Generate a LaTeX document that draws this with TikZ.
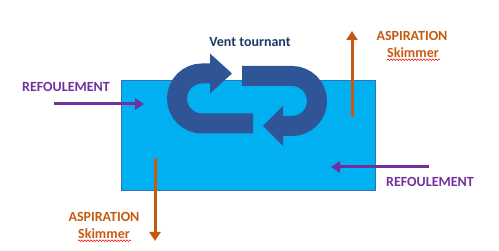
\documentclass[tikz,border=0pt]{standalone}
\usepackage{fontspec}
\setmainfont{Carlito}
\usetikzlibrary{arrows.meta,decorations.pathmorphing}
\definecolor{pool}{HTML}{00B0F0}
\definecolor{pooledge}{HTML}{2E75B6}
\definecolor{turn}{HTML}{2F5597}
\definecolor{navy}{HTML}{1F3864}
\definecolor{violet}{HTML}{7030A0}
\definecolor{rust}{HTML}{C55A11}
\begin{document}
\begin{tikzpicture}[x=1pt,y=1pt,
  lbl/.style={font=\bfseries\fontsize{14}{16}\selectfont, inner sep=0pt},
  flowarrow/.style={line width=3pt, -{Triangle[length=9pt,width=11pt]}},
  uband/.style={line width=20pt, draw=turn},
  uhead/.style={fill=turn, draw=none}]
\useasboundingbox (0,0) rectangle (499,251);
% pool
\node[draw=pooledge, line width=0.8pt, fill=pool, minimum width=254pt, minimum height=110pt, inner sep=0pt] (pool) at (248,116) {};
% left U-turn arrow
\draw[uband] (253,127.5) -- (202,127.5) arc[start angle=-90, end angle=-270, radius=25] -- (210.5,177.5);
\fill[uhead] (210,197.5) -- (232,177.5) -- (210,157.5) -- cycle;
% right U-turn arrow
\draw[uband] (242,175) -- (292,175) arc[start angle=90, end angle=-90, radius=25] -- (282.5,125);
\fill[uhead] (283,145) -- (263,125) -- (283,105) -- cycle;
% labels
\node[lbl, text=navy] (vent) at (250,209) {Vent tournant};
\node[lbl, text=violet] (refL) at (66,164) {REFOULEMENT};
\node[lbl, text=violet] (refR) at (430,69) {REFOULEMENT};
\node[lbl, text=rust] (aspB) at (104,34) {ASPIRATION};
\node[lbl, text=rust] (skB) at (104,17) {Skimmer};
\node[lbl, text=rust] (aspT) at (412,215) {ASPIRATION};
\node[lbl, text=rust] (skT) at (413,198) {Skimmer};
% spell-check squiggles
\draw[red, line width=0.5pt, decorate, decoration={snake, amplitude=0.8pt, segment length=3pt}] (skB.south west) ++(0,-1.5) -- ++(53,0);
\draw[red, line width=0.5pt, decorate, decoration={snake, amplitude=0.8pt, segment length=3pt}] (skT.south west) ++(0,-1.5) -- ++(53,0);
% flow arrows
\coordinate (a1s) at (54,147);  \coordinate (a1e) at (144,147);
\coordinate (a2s) at (429,84);  \coordinate (a2e) at (331,84);
\coordinate (a3s) at (155,93);  \coordinate (a3e) at (155,10);
\coordinate (a4s) at (352,134); \coordinate (a4e) at (352,220);
\draw[flowarrow, violet] (a1s) -- (a1e);
\draw[flowarrow, violet] (a2s) -- (a2e);
\draw[flowarrow, rust] (a3s) -- (a3e);
\draw[flowarrow, rust] (a4s) -- (a4e);
\end{tikzpicture}
\end{document}
